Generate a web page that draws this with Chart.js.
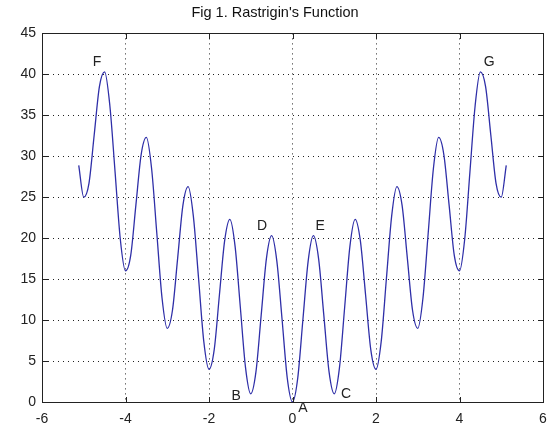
<!DOCTYPE html>
<html>
<head>
<meta charset="utf-8">
<script src="https://cdn.jsdelivr.net/npm/chart.js@4/dist/chart.umd.min.js"></script>
<style>
  body { margin: 0; background: #fff; }
  #wrap { width: 550px; height: 427px; }
</style>
</head>
<body>
<div id="wrap"><canvas id="chart" width="550" height="427"></canvas></div>
<script>
// values (every 1/8 unit)
const xs = [-5.12, -5, -4.875, -4.75, -4.625, -4.5, -4.375, -4.25, -4.125, -4, -3.875, -3.75, -3.625,
  -3.5, -3.375, -3.25, -3.125, -3, -2.875, -2.75, -2.625, -2.5, -2.375, -2.25, -2.125, -2,
  -1.875, -1.75, -1.625, -1.5, -1.375, -1.25, -1.125, -1, -0.875, -0.75, -0.625, -0.5, -0.375,
  -0.25, -0.125, 0, 0.125, 0.25, 0.375, 0.5, 0.625, 0.75, 0.875, 1, 1.125, 1.25, 1.375, 1.5,
  1.625, 1.75, 1.875, 2, 2.125, 2.25, 2.375, 2.5, 2.625, 2.75, 2.875, 3, 3.125, 3.25, 3.375,
  3.5, 3.625, 3.75, 3.875, 4, 4.125, 4.25, 4.375, 4.5, 4.625, 4.75, 4.875, 5, 5.12];
const ys = [28.9, 25.0, 26.7, 32.6, 38.5, 40.3, 36.2, 28.1, 19.9, 16.0, 17.9, 24.1, 30.2,
  32.3, 28.5, 20.6, 12.7, 9.0, 11.2, 17.6, 24.0, 26.3, 22.7, 15.1, 7.4, 4.0,
  6.4, 13.1, 19.7, 22.3, 19.0, 11.6, 4.2, 1.0, 3.7, 10.6, 17.5, 20.3, 17.2,
  10.1, 2.9, 0.0, 2.9, 10.1, 17.2, 20.3, 17.5, 10.6, 3.7, 1.0, 4.2, 11.6, 19.0, 22.3,
  19.7, 13.1, 6.4, 4.0, 7.4, 15.1, 22.7, 26.3, 24.0, 17.6, 11.2, 9.0, 12.7, 20.6, 28.5,
  32.3, 30.2, 24.1, 17.9, 16.0, 19.9, 28.1, 36.2, 40.3, 38.5, 32.6, 26.7, 25.0, 28.9];

// point labels
const markNames = ['F', 'G', 'D', 'E', 'B', 'A', 'C'];
const markX = [-4.68, 4.71, -0.73, 0.66, -1.35, 0.25, 1.28];
const markY = [41.5, 41.5, 21.5, 21.5, 0.7, -0.7, 1.0];

const xTicks = [-6, -4, -2, 0, 2, 4, 6];
const yTicks = [0, 5, 10, 15, 20, 25, 30, 35, 40, 45];

const font = 'Liberation Sans, Arial, sans-serif';
const frame = '#222';

// inward tick marks and letter labels
const extras = {
  id: 'extras',
  afterDraw(chart) {
    const ctx = chart.ctx;
    const a = chart.chartArea;
    const sx = chart.scales.x, sy = chart.scales.y;
    ctx.save();
    ctx.fillStyle = frame;
    const l = Math.round(a.left), t = Math.round(a.top);
    const r = Math.round(a.right), b = Math.round(a.bottom);
    xTicks.forEach(v => {
      const px = Math.round(sx.getPixelForValue(v));
      ctx.fillRect(px, b - 5, 1, 5);
      ctx.fillRect(px, t + 1, 1, 5);
    });
    yTicks.forEach(v => {
      const py = Math.round(sy.getPixelForValue(v));
      ctx.fillRect(l + 1, py, 5, 1);
      ctx.fillRect(r - 5, py, 5, 1);
    });
    ctx.font = '14px ' + font;
    ctx.textAlign = 'center';
    ctx.textBaseline = 'middle';
    markNames.forEach((n, i) => {
      ctx.fillText(n, sx.getPixelForValue(markX[i]), sy.getPixelForValue(markY[i]));
    });
    ctx.restore();
  }
};

const noTicks = { display: false };
const noGrid = { display: false };

new Chart(document.getElementById('chart'), {
  type: 'line',
  data: {
    datasets: [{
      data: xs.map((x, i) => ({ x: x, y: ys[i] })),
      borderColor: '#2f2fa8',
      borderWidth: 1.3,
      pointRadius: 0,
      cubicInterpolationMode: 'monotone',
      fill: false
    }]
  },
  options: {
    responsive: false,
    animation: false,
    plugins: {
      legend: { display: false },
      tooltip: { enabled: false },
      title: {
        display: true,
        text: "Fig 1. Rastrigin's Function",
        color: '#111',
        font: { family: font, size: 14.5, weight: 'normal', lineHeight: 1.2 },
        padding: { top: 4, bottom: 12 }
      }
    },
    scales: {
      x: {
        type: 'linear', min: -6, max: 6,
        afterFit: s => { s.height = 25; s.paddingRight = 7; },
        afterBuildTicks: s => { s.ticks = xTicks.map(v => ({ value: v })); },
        ticks: { color: '#222', font: { family: font, size: 14 }, padding: 9 },
        grid: {
          color: c => (c.tick.value === -6 || c.tick.value === 6) ? 'rgba(0,0,0,0)' : '#222',
          lineWidth: 1, drawTicks: false
        },
        border: { display: true, color: frame, width: 1, dash: [1, 4] }
      },
      y: {
        min: 0, max: 45,
        afterFit: s => { s.width = 42; },
        afterBuildTicks: s => { s.ticks = yTicks.map(v => ({ value: v })); },
        ticks: { color: '#222', font: { family: font, size: 14 }, padding: 6 },
        grid: {
          color: c => (c.tick.value === 0 || c.tick.value === 45) ? 'rgba(0,0,0,0)' : '#222',
          lineWidth: 1, drawTicks: false
        },
        border: { display: true, color: frame, width: 1, dash: [1, 4] }
      },
      x2: {
        type: 'linear', position: 'top', min: -6, max: 6,
        afterFit: s => { s.height = 0; },
        ticks: noTicks, grid: noGrid,
        border: { display: true, color: frame, width: 1 }
      },
      y2: {
        type: 'linear', position: 'right', min: 0, max: 45,
        afterFit: s => { s.width = 0; },
        ticks: noTicks, grid: noGrid,
        border: { display: true, color: frame, width: 1 }
      }
    }
  },
  plugins: [extras]
});
</script>
</body>
</html>
